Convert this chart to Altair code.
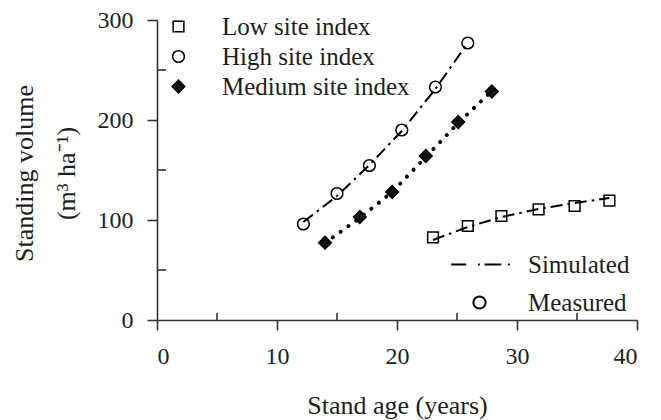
import altair as alt
import pandas as pd

# ---------------- data ----------------
sites = ["Low site index", "High site index", "Medium site index"]

low_age = [23.0, 25.9, 28.7, 31.8, 34.8, 37.7]
low_meas = [82.7, 94.0, 104.0, 110.7, 114.0, 119.3]
low_sim = [80.0, 93.0, 103.0, 111.0, 117.0, 122.0]

high_age = [12.2, 15.0, 17.7, 20.4, 23.2, 25.9]
high_meas = [96.0, 126.5, 154.5, 190.0, 233.0, 277.0]
high_sim = [98.0, 124.0, 155.0, 189.0, 231.0, 277.0]

med_age = [14.0, 16.9, 19.6, 22.4, 25.1, 27.9]
med_meas = [77.3, 103.0, 128.0, 164.0, 198.0, 228.5]
med_sim = [77.0, 102.0, 128.0, 163.0, 197.0, 229.0]

legend2_labels = ["Simulated", "Measured"]

x_major = [0, 10, 20, 30, 40]
x_minor = [5, 15, 25, 35]
y_major = [0, 100, 200, 300]
y_minor = [50, 150, 250]

# ---------------- tables ----------------
meas_rows, sim_rows = [], []
for s, ages, m, sm in [(sites[0], low_age, low_meas, low_sim),
                       (sites[1], high_age, high_meas, high_sim),
                       (sites[2], med_age, med_meas, med_sim)]:
    for a, v in zip(ages, m):
        meas_rows.append({"site": s, "age": a, "vol": v})
    for a, v in zip(ages, sm):
        sim_rows.append({"site": s, "age": a, "vol": v})
meas = pd.DataFrame(meas_rows)
sim = pd.DataFrame(sim_rows)
leg2 = pd.DataFrame({"leg": legend2_labels})
xminor_df = pd.DataFrame({"v": x_minor})
yminor_df = pd.DataFrame({"v": y_minor})

FONT = "Liberation Serif"
TXT = "#1e1e1e"
AX = "#333333"

xscale = alt.Scale(domain=[0, 40], nice=False, zero=True)
yscale = alt.Scale(domain=[0, 300], nice=False, zero=True)

x_axis = alt.Axis(values=x_major, tickSize=10, tickWidth=1.6, tickColor=AX,
                  domainColor=AX, domainWidth=1.6, labelFont=FONT, labelFontSize=24,
                  labelColor=TXT, labelPadding=14, grid=False,
                  title="Stand age (years)", titleFont=FONT, titleFontSize=26,
                  titleFontWeight="normal", titleColor=TXT, titleX=240, titleY=85,
                  titleBaseline="middle")
y_axis = alt.Axis(values=y_major, tickSize=10, tickWidth=1.6, tickColor=AX,
                  domainColor=AX, domainWidth=1.6, labelFont=FONT, labelFontSize=24,
                  labelColor=TXT, labelPadding=14, grid=False,
                  title=["Standing volume", "(m³ ha⁻¹)"], titleFont=FONT,
                  titleFontSize=26, titleFontWeight="normal", titleColor=TXT,
                  titleX=-133, titleY=153, titleAlign="center",
                  titleBaseline="middle", titleLineHeight=42, titleAngle=270)

X = alt.X("age:Q", scale=xscale, axis=x_axis)
Y = alt.Y("vol:Q", scale=yscale, axis=y_axis)

# simulated lines
dashdot = alt.Chart(sim).transform_filter(
    alt.FieldOneOfPredicate(field="site", oneOf=[sites[0], sites[1]])
).mark_line(color="black", strokeWidth=2, strokeDash=[12, 5, 2.5, 5]).encode(
    x=X, y=Y, detail="site:N",
)
dotted = alt.Chart(sim).transform_filter(
    alt.FieldEqualPredicate(field="site", equal=sites[2])
).mark_line(color="black", strokeWidth=4, strokeDash=[0.1, 9.5], strokeCap="round").encode(
    x=X, y=Y,
)

legend1 = alt.Legend(orient="none", legendX=9, legendY=-6, title=None,
                     labelFont=FONT, labelFontSize=25, labelColor=TXT,
                     labelOffset=31, labelLimit=400, rowPadding=4, padding=0,
                     symbolStrokeWidth=1.5, symbolStrokeColor="black")

points = alt.Chart(meas).mark_point(filled=True, stroke="black", strokeWidth=1.5,
                                    opacity=1).encode(
    x=X, y=Y,
    shape=alt.Shape("site:N", scale=alt.Scale(domain=sites, range=["square", "circle", "diamond"]),
                    legend=legend1),
    color=alt.Color("site:N", scale=alt.Scale(domain=sites, range=["transparent", "transparent", "#111111"]),
                    legend=legend1),
    size=alt.Size("site:N", scale=alt.Scale(domain=sites, range=[115, 160, 210]),
                  legend=legend1),
)

dd_path = "M-4.62,0H-2.17M-0.25,0H0.05M0.82,0H3.55M4.65,0H4.95"
legend2 = alt.Legend(orient="none", legendX=310, legendY=232, title=None,
                     labelFont=FONT, labelFontSize=25, labelColor=TXT,
                     labelOffset=36, labelLimit=400, rowPadding=12, padding=0,
                     symbolSize=150, symbolOpacity=1, symbolStrokeColor="black",
                     symbolStrokeWidth=2, symbolFillColor="transparent")

dummy = alt.Chart(leg2).mark_point(filled=False, opacity=0, stroke="black", size=150).encode(
    shape=alt.Shape("leg:N", scale=alt.Scale(domain=legend2_labels, range=[dd_path, "circle"]),
                    legend=legend2),
)

xminor = alt.Chart(xminor_df).mark_rule(color=AX, strokeWidth=1.6).encode(
    x=alt.X("v:Q", scale=xscale, axis=x_axis),
    y=alt.value(300), y2=alt.value(293),
)
yminor = alt.Chart(yminor_df).mark_rule(color=AX, strokeWidth=1.6).encode(
    y=alt.Y("v:Q", scale=yscale, axis=y_axis),
    x=alt.value(0), x2=alt.value(9),
)

chart = alt.layer(dashdot, dotted, points, dummy, xminor, yminor).resolve_scale(
    shape="independent", color="independent", size="independent"
).properties(
    width=480, height=300,
    autosize=alt.AutoSizeParams(type="none"),
    padding={"left": 157, "top": 20, "right": 24, "bottom": 100},
    background="white",
).configure_view(stroke=None)

chart.save("out.html", embed_options={"renderer": "svg", "actions": False})
